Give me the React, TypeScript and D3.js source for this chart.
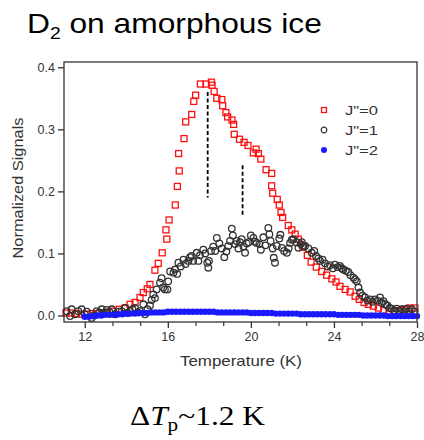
import React, { useRef, useEffect } from "react";
import * as d3 from "d3";

// J"=0 (red squares)
const j0Temp = [11.1, 11.35, 11.6, 11.85, 12.1, 12.35, 12.6, 12.85, 13.1, 13.35, 13.66, 13.94, 14.18, 14.42, 14.66, 14.82, 15.01, 15.14, 15.38, 15.54, 15.73, 15.91, 15.95, 16.06, 16.36, 16.46, 16.52, 16.55, 16.78, 16.86, 17.15, 17.25, 17.34, 17.57, 17.84, 18.1, 18.13, 18.23, 18.36, 18.6, 18.64, 18.8, 18.88, 19.09, 19.17, 19.2, 19.45, 19.67, 19.86, 20.12, 20.25, 20.36, 20.48, 20.73, 21.0, 21.0, 21.05, 21.27, 21.37, 21.45, 21.53, 21.8, 21.97, 22.13, 22.29, 22.5, 22.72, 22.9, 23.15, 23.41, 23.65, 23.9, 24.1, 24.29, 24.54, 24.78, 25.02, 25.22, 25.45, 25.66, 25.9, 26.14, 26.4, 26.65, 26.9, 27.15, 27.4, 27.65, 27.9];
const j0Val = [0.004, 0.004, 0.003, 0.002, 0.002, 0.003, 0.003, 0.004, 0.005, 0.007, 0.01, 0.012, 0.018, 0.021, 0.029, 0.037, 0.043, 0.05, 0.073, 0.084, 0.101, 0.138, 0.123, 0.154, 0.178, 0.208, 0.261, 0.233, 0.285, 0.312, 0.324, 0.345, 0.355, 0.373, 0.373, 0.376, 0.371, 0.361, 0.35, 0.348, 0.338, 0.327, 0.32, 0.315, 0.308, 0.292, 0.284, 0.279, 0.274, 0.262, 0.268, 0.261, 0.252, 0.235, 0.229, 0.209, 0.197, 0.187, 0.178, 0.166, 0.158, 0.145, 0.138, 0.131, 0.123, 0.11, 0.097, 0.086, 0.078, 0.071, 0.065, 0.059, 0.054, 0.047, 0.042, 0.038, 0.031, 0.026, 0.021, 0.018, 0.015, 0.012, 0.008, 0.006, 0.006, 0.008, 0.01, 0.012, 0.012];

// J"=1 (grey circles)
const j1Temp = [11.13, 11.29, 11.37, 11.53, 11.69, 11.85, 12.0, 12.1, 12.33, 12.45, 12.57, 12.7, 12.82, 12.95, 13.06, 13.18, 13.3, 13.47, 13.62, 13.78, 13.94, 14.05, 14.18, 14.3, 14.42, 14.55, 14.66, 14.82, 14.9, 15.02, 15.14, 15.22, 15.3, 15.38, 15.46, 15.62, 15.7, 15.78, 15.86, 15.98, 16.02, 16.11, 16.27, 16.35, 16.45, 16.51, 16.62, 16.75, 16.85, 16.99, 17.07, 17.15, 17.22, 17.39, 17.47, 17.55, 17.71, 17.8, 17.9, 17.95, 17.98, 18.08, 18.19, 18.28, 18.36, 18.48, 18.6, 18.72, 18.82, 18.91, 19.0, 19.08, 19.13, 19.24, 19.32, 19.4, 19.48, 19.56, 19.64, 19.72, 19.8, 19.9, 20.0, 20.12, 20.2, 20.28, 20.41, 20.48, 20.6, 20.7, 20.84, 20.89, 20.95, 21.05, 21.1, 21.16, 21.25, 21.37, 21.42, 21.49, 21.6, 21.73, 21.82, 21.89, 21.97, 22.05, 22.2, 22.29, 22.4, 22.45, 22.53, 22.61, 22.77, 22.93, 23.05, 23.14, 23.25, 23.33, 23.45, 23.57, 23.7, 23.81, 23.95, 24.05, 24.18, 24.29, 24.37, 24.45, 24.57, 24.69, 24.8, 24.94, 25.02, 25.1, 25.18, 25.26, 25.38, 25.5, 25.62, 25.74, 25.86, 25.98, 26.1, 26.22, 26.3, 26.38, 26.47, 26.57, 26.68, 26.78, 26.9, 27.03, 27.15, 27.27, 27.38, 27.5, 27.62, 27.75, 27.88];
const j1Val = [0.007, -0.001, 0.01, 0.002, 0.007, 0.01, 0.002, 0.006, -0.004, 0.0, 0.007, 0.005, 0.01, 0.004, 0.009, 0.006, 0.01, 0.002, 0.006, 0.007, 0.012, 0.004, 0.007, 0.01, 0.012, 0.005, 0.007, 0.018, 0.002, 0.01, 0.016, 0.025, 0.034, 0.028, 0.042, 0.053, 0.06, 0.045, 0.042, 0.042, 0.055, 0.071, 0.069, 0.074, 0.067, 0.085, 0.079, 0.09, 0.083, 0.088, 0.094, 0.096, 0.088, 0.101, 0.088, 0.097, 0.106, 0.1, 0.085, 0.077, 0.088, 0.104, 0.111, 0.104, 0.125, 0.116, 0.108, 0.094, 0.103, 0.112, 0.12, 0.14, 0.129, 0.115, 0.12, 0.108, 0.118, 0.123, 0.111, 0.101, 0.116, 0.118, 0.129, 0.125, 0.119, 0.117, 0.115, 0.106, 0.126, 0.113, 0.141, 0.131, 0.12, 0.108, 0.093, 0.085, 0.112, 0.124, 0.13, 0.109, 0.104, 0.101, 0.108, 0.117, 0.122, 0.123, 0.118, 0.109, 0.115, 0.118, 0.112, 0.112, 0.108, 0.101, 0.104, 0.096, 0.092, 0.088, 0.09, 0.084, 0.079, 0.081, 0.076, 0.082, 0.078, 0.08, 0.076, 0.074, 0.072, 0.07, 0.065, 0.061, 0.058, 0.055, 0.045, 0.037, 0.032, 0.029, 0.024, 0.026, 0.022, 0.026, 0.024, 0.029, 0.02, 0.023, 0.018, 0.016, 0.012, 0.011, 0.008, 0.011, 0.007, 0.01, 0.006, 0.011, 0.007, 0.01, 0.006];

// J"=2 (blue dots)
const j2Temp = [12.0, 12.2, 12.4, 12.6, 12.8, 13.0, 13.2, 13.4, 13.6, 13.8, 14.0, 14.2, 14.4, 14.6, 14.8, 15.0, 15.2, 15.4, 15.6, 15.8, 16.0, 16.2, 16.4, 16.6, 16.8, 17.0, 17.2, 17.4, 17.6, 17.8, 18.0, 18.2, 18.4, 18.6, 18.8, 19.0, 19.2, 19.4, 19.6, 19.8, 20.0, 20.2, 20.4, 20.6, 20.8, 21.0, 21.2, 21.4, 21.6, 21.8, 22.0, 22.2, 22.4, 22.6, 22.8, 23.0, 23.2, 23.4, 23.6, 23.8, 24.0, 24.2, 24.4, 24.6, 24.8, 25.0, 25.2, 25.4, 25.6, 25.8, 26.0, 26.2, 26.4, 26.6, 26.8, 27.0, 27.2, 27.4, 27.6, 27.8, 28.0];
const j2Val = [-0.002, -0.002, -0.001, 0.0, 0.0, 0.001, 0.001, 0.001, 0.002, 0.002, 0.003, 0.003, 0.003, 0.004, 0.004, 0.004, 0.005, 0.005, 0.005, 0.005, 0.006, 0.006, 0.006, 0.006, 0.006, 0.006, 0.006, 0.006, 0.006, 0.006, 0.006, 0.006, 0.005, 0.005, 0.005, 0.005, 0.005, 0.005, 0.005, 0.005, 0.004, 0.004, 0.004, 0.004, 0.004, 0.004, 0.003, 0.003, 0.003, 0.003, 0.003, 0.003, 0.002, 0.002, 0.002, 0.002, 0.002, 0.002, 0.002, 0.002, 0.002, 0.001, 0.001, 0.001, 0.001, 0.001, 0.001, 0.0, 0.0, 0.0, 0.0, 0.0, 0.0, -0.001, -0.001, -0.001, -0.001, -0.001, -0.001, -0.001, -0.001];

const xTicks = [12, 16, 20, 24, 28];
const xMinorTicks = [13.333, 14.667, 17.333, 18.667, 21.333, 22.667, 25.333, 26.667];
const yTicks = [0, 0.1, 0.2, 0.3, 0.4];
const legendLabels = ['J"=0', 'J"=1', 'J"=2'];

// dashed peak markers
const peakTemps = [17.92, 19.6];
const peakTop = [0.36, 0.242];
const peakBottom = [0.19, 0.16];

const SANS = "Arial, 'Liberation Sans', sans-serif";
const SERIF = "'Times New Roman', 'Liberation Serif', serif";

export default function App() {
    const svgRef = useRef<SVGSVGElement>(null);

    useEffect(() => {
        if (!svgRef.current) return;
        const svg = d3.select(svgRef.current);
        svg.selectAll("*").remove();

        const left = 64, right = 417, top = 62, bottom = 322;

        const x = d3.scaleLinear().domain([11, 28]).range([left, right]);
        const y = d3.scaleLinear().domain([-0.0105, 0.4085]).range([bottom, top]);

        const zip = (t: number[], v: number[]) => t.map((d, i) => ({ t: d, v: v[i] }));
        const j0 = zip(j0Temp, j0Val);
        const j1 = zip(j1Temp, j1Val);
        const j2 = zip(j2Temp, j2Val);

        // stretch a text to the width it has in the picture
        const fit = (sel: d3.Selection<SVGTextElement, unknown, null, undefined>, width: number) => {
            const node = sel.node();
            if (!node) return 1;
            const w = node.getComputedTextLength();
            return w > 0 ? width / w : 1;
        };

        // Title
        const title = svg.append("text")
            .attr("font-family", SANS)
            .attr("font-size", 28)
            .attr("fill", "#000");
        title.append("tspan").text("D");
        title.append("tspan").attr("font-size", 17).attr("dy", 6).text("2");
        title.append("tspan").attr("dy", -6).text(" on amorphous ice");
        title.attr("transform", `translate(27,33) scale(${fit(title, 295)},1)`);

        // Data
        const plot = svg.append("g");

        plot.selectAll(".j0")
            .data(j0)
            .enter()
            .append("rect")
            .attr("x", d => x(d.t) - 3)
            .attr("y", d => y(d.v) - 3)
            .attr("width", 6)
            .attr("height", 6)
            .attr("fill", "none")
            .attr("stroke", "#ff1010")
            .attr("stroke-width", 1.3);

        plot.selectAll(".j1")
            .data(j1)
            .enter()
            .append("circle")
            .attr("cx", d => x(d.t))
            .attr("cy", d => y(d.v))
            .attr("r", 3.3)
            .attr("fill", "none")
            .attr("stroke", "#333")
            .attr("stroke-width", 1.3);

        plot.selectAll(".j2")
            .data(j2)
            .enter()
            .append("circle")
            .attr("cx", d => x(d.t))
            .attr("cy", d => y(d.v))
            .attr("r", 3.2)
            .attr("fill", "#1a1aff");

        // Peak markers
        plot.selectAll(".peak")
            .data(peakTemps)
            .enter()
            .append("line")
            .attr("x1", d => x(d))
            .attr("x2", d => x(d))
            .attr("y1", (d, i) => y(peakTop[i]))
            .attr("y2", (d, i) => y(peakBottom[i]))
            .attr("stroke", "#000")
            .attr("stroke-width", 1.8)
            .attr("stroke-dasharray", "4 2.5");

        // Frame
        svg.append("rect")
            .attr("x", left)
            .attr("y", top)
            .attr("width", right - left)
            .attr("height", bottom - top)
            .attr("fill", "none")
            .attr("stroke", "#333")
            .attr("stroke-width", 1.3);

        // Axes
        const yAxis = svg.append("g")
            .attr("transform", `translate(${left},0)`)
            .call(d3.axisLeft(y).tickValues(yTicks).tickFormat(d3.format(".1f")).tickSize(6).tickPadding(3))
            .attr("color", "#333")
            .attr("font-family", SANS)
            .attr("font-size", 12.5);
        yAxis.select(".domain").remove();
        yAxis.selectAll("line").attr("stroke-width", 1.3);

        const xAxis = svg.append("g")
            .attr("transform", `translate(0,${bottom})`)
            .call(d3.axisBottom(x).tickValues(xTicks).tickFormat(d3.format("d")).tickSize(6).tickPadding(4))
            .attr("color", "#333")
            .attr("font-family", SANS)
            .attr("font-size", 12.5);
        xAxis.select(".domain").remove();
        xAxis.selectAll("line").attr("stroke-width", 1.3);

        const xMinor = svg.append("g")
            .attr("transform", `translate(0,${bottom})`)
            .call(d3.axisBottom(x).tickValues(xMinorTicks).tickFormat(() => "").tickSize(4))
            .attr("color", "#333");
        xMinor.select(".domain").remove();
        xMinor.selectAll("line").attr("stroke-width", 1.2);

        // Axis titles
        const xt = svg.append("text")
            .attr("font-family", SANS)
            .attr("font-size", 14)
            .attr("fill", "#333")
            .attr("text-anchor", "middle")
            .text("Temperature (K)");
        xt.attr("transform", `translate(241,366) scale(${fit(xt, 122)},1)`);

        const yt = svg.append("text")
            .attr("font-family", SANS)
            .attr("font-size", 14)
            .attr("fill", "#333")
            .attr("text-anchor", "middle")
            .text("Normalized Signals");
        yt.attr("transform", `translate(23,188) rotate(-90) scale(${fit(yt, 141)},1)`);

        // Legend
        const legend = svg.append("g").attr("transform", "translate(324,110)");
        legendLabels.forEach((lab, i) => {
            const row = legend.append("g").attr("transform", `translate(0,${i * 20})`);
            if (i === 0) {
                row.append("rect").attr("x", -2.5).attr("y", -2.5).attr("width", 5).attr("height", 5)
                    .attr("fill", "none").attr("stroke", "#ff1010").attr("stroke-width", 1.3);
            } else if (i === 1) {
                row.append("circle").attr("r", 2.8).attr("fill", "none")
                    .attr("stroke", "#333").attr("stroke-width", 1.2);
            } else {
                row.append("circle").attr("r", 3).attr("fill", "#1a1aff");
            }
            const t = row.append("text")
                .attr("font-family", SANS)
                .attr("font-size", 13.5)
                .attr("fill", "#333")
                .text(lab);
            t.attr("transform", `translate(21,5) scale(${fit(t, 33)},1)`);
        });

        // Footnote
        const foot = svg.append("text")
            .attr("font-family", SERIF)
            .attr("font-size", 28)
            .attr("fill", "#000");
        foot.append("tspan").text("\u0394");
        foot.append("tspan").attr("font-style", "italic").text("T");
        foot.append("tspan").attr("font-size", 19).attr("dy", 6).text("p");
        foot.append("tspan").attr("dy", -6).text("~1.2 K");
        foot.attr("transform", `translate(130,425) scale(${fit(foot, 135)},1)`);
    }, []);

    return (
        <svg
            ref={svgRef}
            width={424}
            height={440}
            style={{ position: "absolute", left: 0, top: 0, background: "#fff" }}
        />
    );
}
